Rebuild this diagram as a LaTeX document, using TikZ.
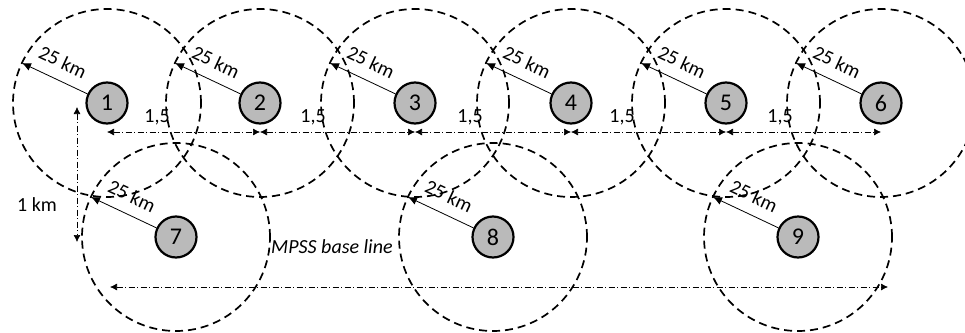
\documentclass[tikz,border=0pt]{standalone}
\usepackage{fontspec}
\setmainfont{Carlito}
\usetikzlibrary{arrows.meta}
\begin{document}
\begin{tikzpicture}[x=1pt,y=-1pt,
 station/.style={circle, draw, line width=2.2pt, fill=black!27, minimum size=41pt, inner sep=0pt, font=\fontsize{24}{24}\selectfont},
 zone/.style={line width=1.7pt, dash pattern=on 8pt off 5pt},
 rad/.style={line width=0.8pt, -{Latex[length=9pt,width=8pt]}},
 dim/.style={line width=0.7pt, dash pattern=on 6pt off 2.5pt on 1pt off 2.5pt, {Latex[length=7pt,width=7pt]}-{Latex[length=7pt,width=7pt]}},
 lbl/.style={font=\fontsize{20}{20}\selectfont, inner sep=1pt}]
\useasboundingbox (0,0) rectangle (965,332);
\begin{scope}
\clip (0,0) rectangle (965,332);
% stations
\node[station] (n1) at (107,103) {1};
\node[station] (n2) at (260,103) {2};
\node[station] (n3) at (415,103) {3};
\node[station] (n4) at (571,103) {4};
\node[station] (n5) at (726,103) {5};
\node[station] (n6) at (881,103) {6};
\node[station] (n7) at (176,237) {7};
\node[station] (n8) at (493,237) {8};
\node[station] (n9) at (798,237) {9};
% zones
\foreach \i in {1,...,9}{
  \draw[zone] (n\i.center) circle[radius=94pt];
  \coordinate (t\i) at ([shift={(-85,-40)}]n\i.center);
  \draw[rad] (n\i.155) -- (t\i);
  \node[lbl, rotate=-25] (r\i) at ([shift={(-44,-41)}]n\i.center) {25 km};
}
\end{scope}
% dimension line between top stations
\coordinate (hb) at (0,132);
\foreach \a/\b in {1/2,2/3,3/4,4/5,5/6}{
  \draw[dim] (n\a |- hb) -- (n\b |- hb);
}
\node[lbl] (l1) at (157,117) {1,5};
\node[lbl] (l2) at (313,117) {1,5};
\node[lbl] (l3) at (470,117) {1,5};
\node[lbl] (l4) at (622,117) {1,5};
\node[lbl] (l5) at (780,117) {1,5};
% vertical 1 km
\coordinate (v1) at (77,107);
\coordinate (v2) at (77,242);
\draw[dim] (v1) -- (v2);
\node[lbl] (km) at (37,205) {1 km};
% base line
\coordinate (b1) at (110,287);
\coordinate (b2) at (888,287);
\draw[dim] (b1) -- (b2);
\node[lbl, anchor=west, font=\fontsize{20}{20}\selectfont\itshape] (mpss) at (270,247) {MPSS base line};
\end{tikzpicture}
\end{document}
